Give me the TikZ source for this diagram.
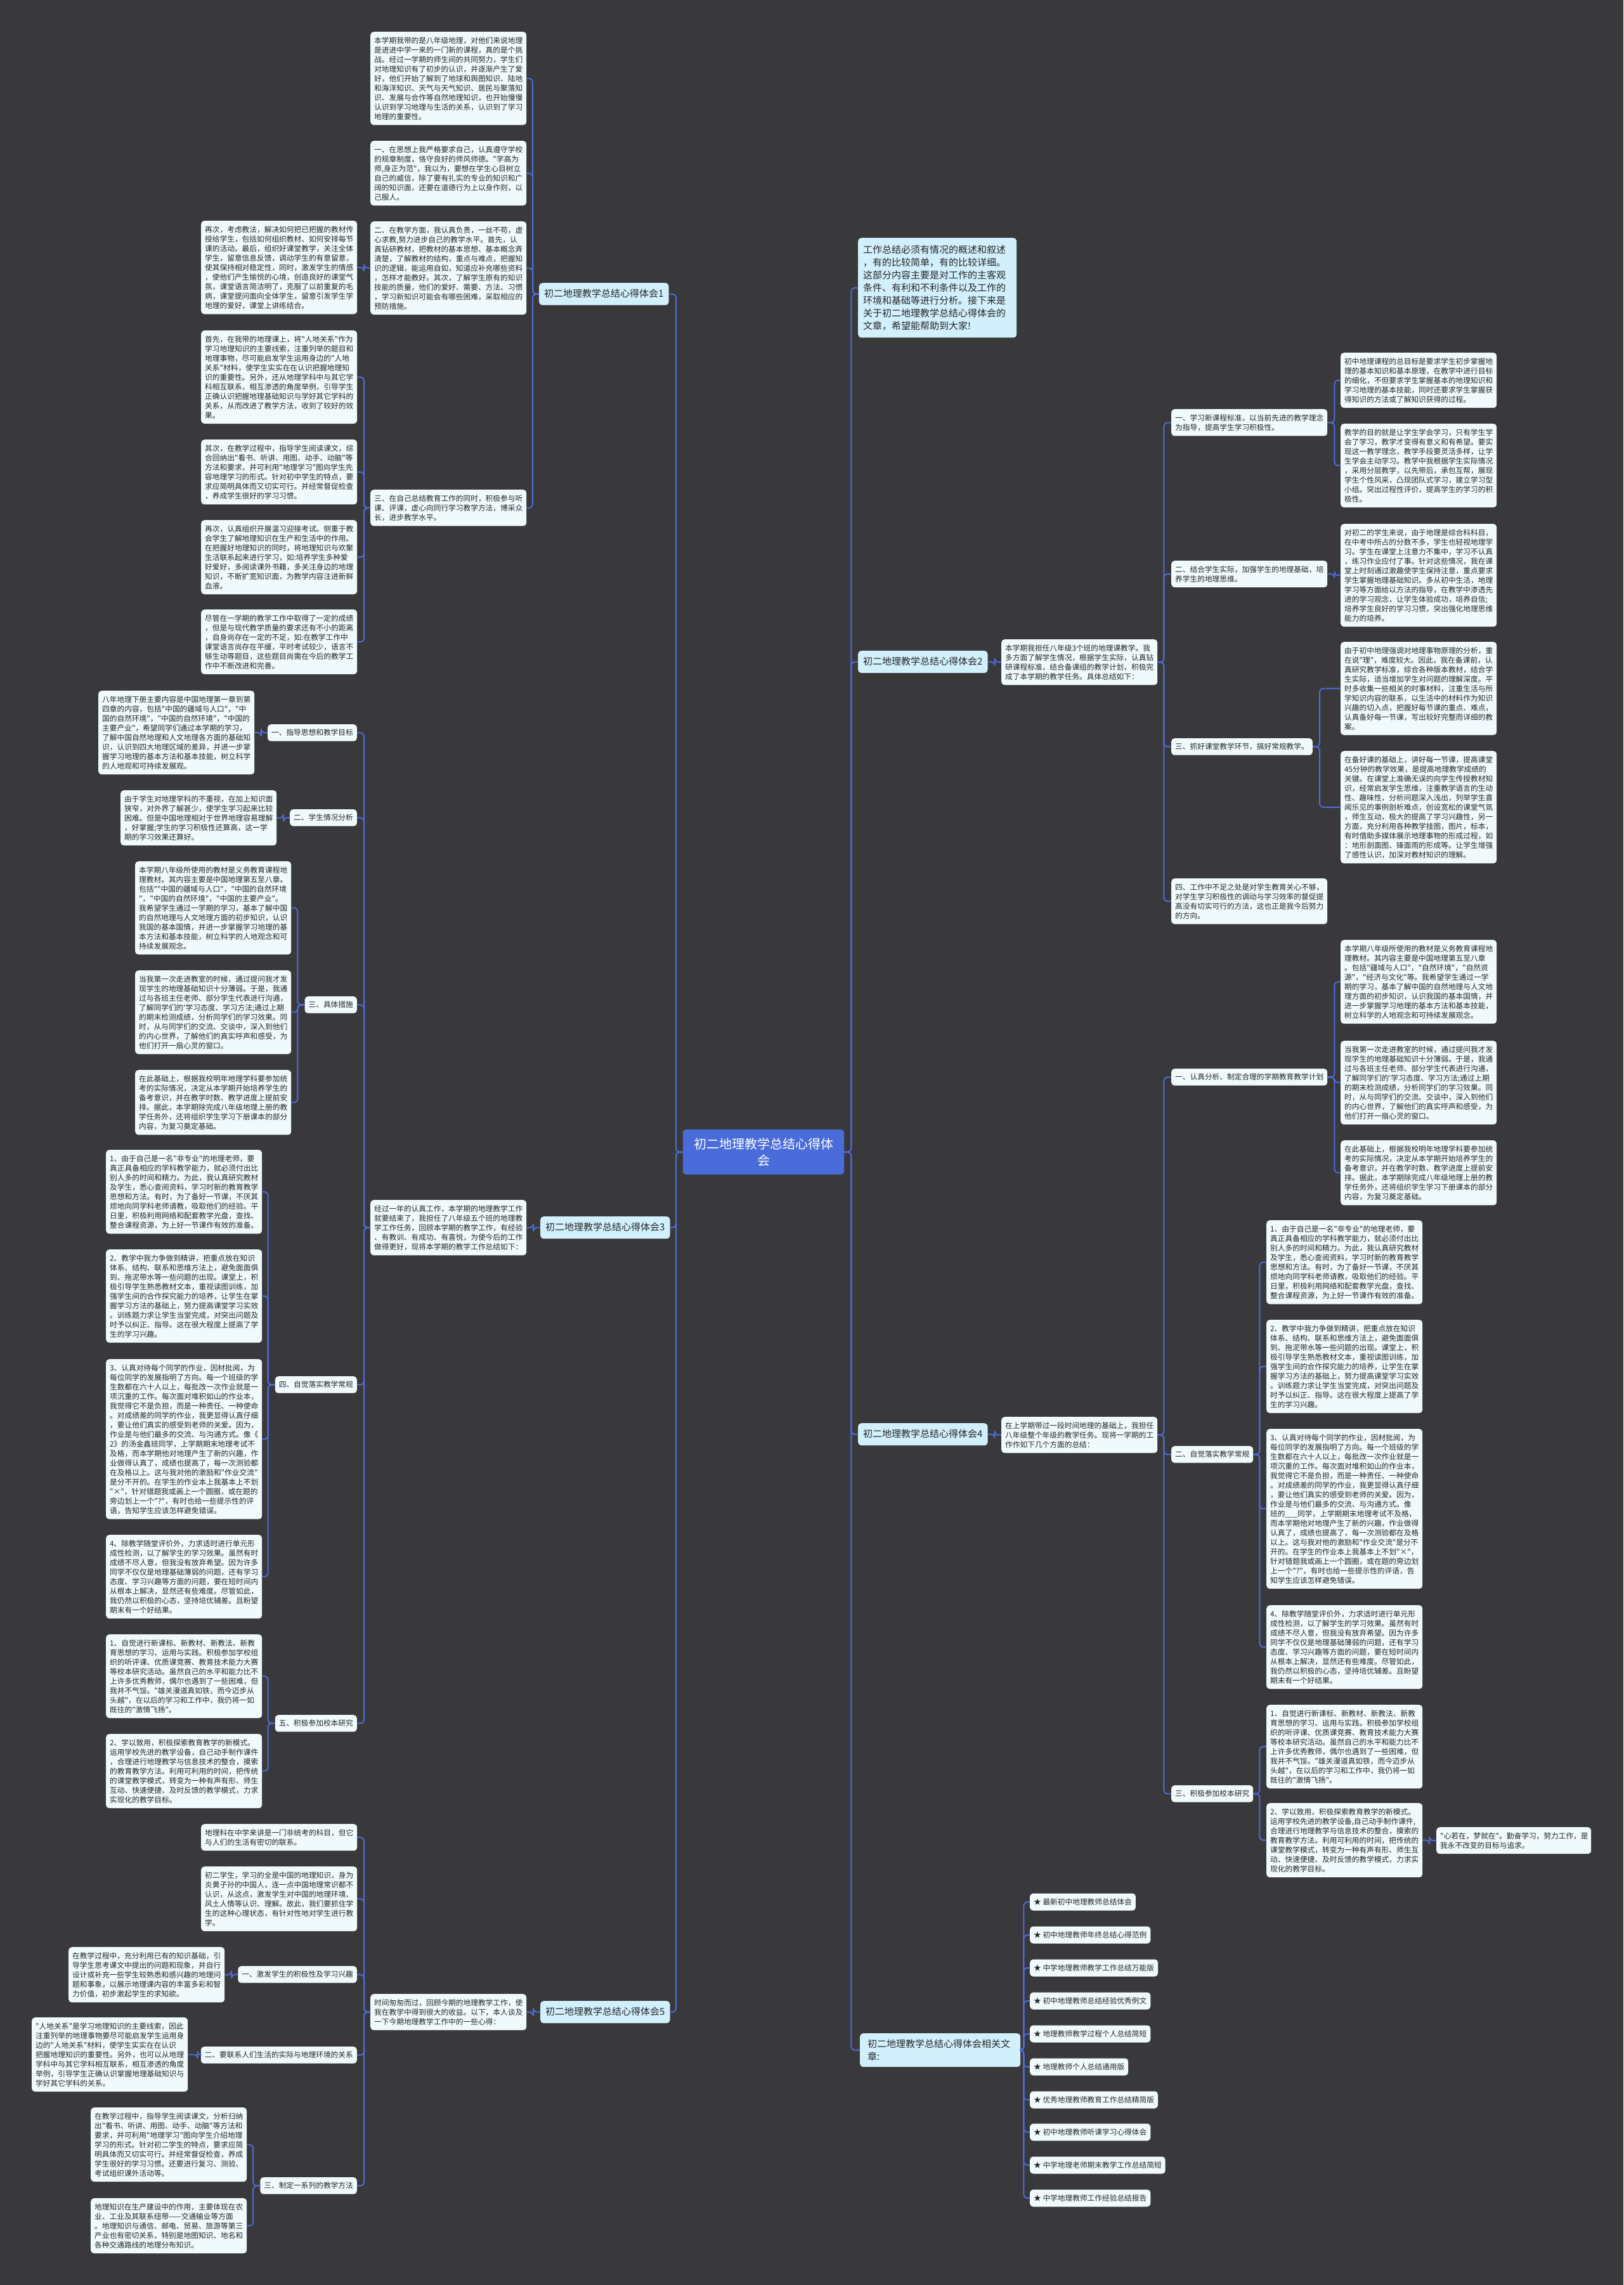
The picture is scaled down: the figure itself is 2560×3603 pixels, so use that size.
\documentclass[tikz,border=0pt]{standalone}
\usepackage{fontspec}
\newfontfamily\cjk{Noto Sans CJK SC}
\definecolor{bgc}{RGB}{57,56,58}
\definecolor{leafc}{RGB}{240,250,253}
\definecolor{labc}{RGB}{210,240,252}
\definecolor{ctrc}{RGB}{74,108,218}
\definecolor{lnc}{RGB}{78,108,218}
\definecolor{txt}{RGB}{38,38,38}
\newcommand{\fsA}{\cjk\fontsize{11.7pt}{15pt}\selectfont}
\newcommand{\fsB}{\cjk\fontsize{15pt}{20pt}\selectfont}
\newcommand{\fsC}{\cjk\fontsize{20pt}{26pt}\selectfont}
\begin{document}
\begin{tikzpicture}[x=1pt,y=-1pt,
 conn/.style={draw=lnc, line width=2pt, rounded corners=6pt},
 leaf/.style={rectangle, rounded corners=5pt, fill=leafc, text=txt, text width=234pt, inner xsep=6pt, inner ysep=8pt, align=left, font=\fsA, anchor=north west},
 sublab/.style={rectangle, rounded corners=5pt, fill=leafc, text=txt, inner xsep=6pt, inner ysep=7pt, text height=10pt, text depth=2.5pt, font=\fsA},
 blab/.style={rectangle, rounded corners=5pt, fill=labc, text=txt, inner xsep=8pt, inner ysep=10pt, text height=12pt, text depth=3pt, font=\fsB, anchor=north west},
 rellab/.style={rectangle, rounded corners=5pt, fill=leafc, text=txt, inner xsep=6pt, inner ysep=7.5pt, text height=10pt, text depth=2pt, font=\fsA, anchor=west}
]
\fill[bgc] (0,0) rectangle (2560,3603);
\useasboundingbox (0,0) rectangle (2560,3603);

% centre
\node[rectangle, rounded corners=4pt, fill=ctrc, text=white, text width=234pt, inner xsep=10pt, inner ysep=13pt, align=center, font=\fsC, anchor=north west] (C) at (1077,1781) {初二地理教学总结心得体\\会};

% ===== branch 1 =====
\node[blab] (b1) at (850,446) {初二地理教学总结心得体会1};
\node[leaf] (b1a) at (584,50) {本学期我带的是八年级地理，对他们来说地理\\是进进中学一来的一门新的课程，真的是个挑\\战。经过一学期的师生间的共同努力，学生们\\对地理知识有了初步的认识，并逐渐产生了爱\\好，他们开始了解到了地球和舆图知识、陆地\\和海洋知识、天气与天气知识、居民与聚落知\\识、发展与合作等自然地理知识，也开始慢慢\\认识到学习地理与生活的关系，认识到了学习\\地理的重要性。};
\node[leaf] (b1b) at (584,222) {一、在思想上我严格要求自己，认真遵守学校\\的规章制度，恪守良好的师风师德。"学高为\\师,身正为范"，我以为，要想在学生心目树立\\自己的威信，除了要有扎实的专业的知识和广\\阔的知识面，还要在道德行为上以身作则，以\\己服人。};
\node[leaf] (b1c) at (584,349) {二、在教学方面，我认真负责，一丝不苟，虚\\心求教,努力进步自己的教学水平。首先，认\\真钻研教材，把教材的基本思想、基本概念弄\\清楚，了解教材的结构，重点与难点，把握知\\识的逻辑，能运用自如，知道应补充哪些资料\\，怎样才能教好。其次，了解学生原有的知识\\技能的质量，他们的爱好、需要、方法、习惯\\，学习新知识可能会有哪些困难，采取相应的\\预防措施。};
\node[leaf] (b1d) at (584,772) {三、在自己总结教育工作的同时，积极参与听\\课、评课，虚心向同行学习教学方法，博采众\\长，进步教学水平。};
\node[leaf] (b1c1) at (317,348) {再次，考虑教法，解决如何把已把握的教材传\\授给学生，包括如何组织教材、如何安排每节\\课的活动。最后，组织好课堂教学，关注全体\\学生，留意信息反馈，调动学生的有意留意，\\使其保持相对稳定性，同时，激发学生的情感\\，使他们产生愉悦的心境，创造良好的课堂气\\氛，课堂语言简洁明了，克服了以前重复的毛\\病，课堂提问面向全体学生，留意引发学生学\\地理的爱好，课堂上讲练结合。};
\node[leaf] (b1d1) at (317,521) {首先，在我带的地理课上，将"人地关系"作为\\学习地理知识的主要线索，注重列举的题目和\\地理事物，尽可能启发学生运用身边的"人地\\关系"材料，使学生实实在在认识把握地理知\\识的重要性。另外，还从地理学科中与其它学\\科相互联系，相互渗透的角度举例，引导学生\\正确认识把握地理基础知识与学好其它学科的\\关系，从而改进了教学方法，收到了较好的效\\果。};
\node[leaf] (b1d2) at (317,693) {其次，在教学过程中，指导学生阅读课文，综\\合回纳出"看书、听讲、用图、动手、动脑"等\\方法和要求，并可利用"地理学习"图向学生先\\容地理学习的形式。针对初中学生的特点，要\\求应简明具体而又切实可行。并经常督促检查\\，养成学生很好的学习习惯。};
\node[leaf] (b1d3) at (317,820) {再次，认真组织开展温习迎接考试。侧重于教\\会学生了解地理知识在生产和生活中的作用。\\在把握好地理知识的同时，将地理知识与欢聚\\生活联系起来进行学习，如:培养学生多种爱\\好爱好，多阅读课外书籍，多关注身边的地理\\知识，不断扩宽知识面，为教学内容注进新鲜\\血液。};
\node[leaf] (b1d4) at (317,961) {尽管在一学期的教学工作中取得了一定的成绩\\，但是与现代教学质量的要求还有不小的距离\\，自身尚存在一定的不足，如:在教学工作中\\课堂语言尚存在平缓，平时考试较少，语言不\\够生动等题目，这些题目尚需在今后的教学工\\作中不断改进和完善。};

% ===== branch 3 =====
\node[blab] (b3) at (852,1918) {初二地理教学总结心得体会3};
\node[leaf] (b3t) at (584,1892) {经过一年的认真工作，本学期的地理教学工作\\就要结束了，我担任了八年级五个班的地理教\\学工作任务，回顾本学期的教学工作，有经验\\、有教训、有成功、有喜悦，为使今后的工作\\做得更好，现将本学期的教学工作总结如下：};
\node[sublab, anchor=north east] (b3s1) at (563,1142) {一、指导思想和教学目标};
\node[sublab, anchor=north east] (b3s2) at (563,1276) {二、学生情况分析};
\node[sublab, anchor=north east] (b3s3) at (563,1571) {三、具体措施};
\node[sublab, anchor=north east] (b3s4) at (563,2170) {四、自觉落实教学常规};
\node[sublab, anchor=north east] (b3s5) at (563,2704) {五、积极参加校本研究};
\node[leaf] (b3s1l) at (155,1089) {八年地理下册主要内容是中国地理第一章到第\\四章的内容，包括"中国的疆域与人口"，"中\\国的自然环境"，"中国的自然环境"，"中国的\\主要产业"，希望同学们通过本学期的学习，\\了解中国自然地理和人文地理各方面的基础知\\识，认识到四大地理区域的差异，并进一步掌\\握学习地理的基本方法和基本技能，树立科学\\的人地观和可持续发展观。};
\node[leaf] (b3s2l) at (190,1246) {由于学生对地理学科的不重视，在加上知识面\\狭窄，对外界了解甚少，使学生学习起来比较\\困难。但是中国地理相对于世界地理容易理解\\，好掌握;学生的学习积极性还算高，这一学\\期的学习效果还算好。};
\node[leaf] (b3s3l1) at (213,1358) {本学期八年级所使用的教材是义务教育课程地\\理教材。其内容主要是中国地理第五至八章。\\包括""中国的疆域与人口"，"中国的自然环境\\"，"中国的自然环境"，"中国的主要产业"。\\我希望学生通过一学期的学习，基本了解中国\\的自然地理与人文地理方面的初步知识，认识\\我国的基本国情，并进一步掌握学习地理的基\\本方法和基本技能，树立科学的人地观念和可\\持续发展观念。};
\node[leaf] (b3s3l2) at (213,1530) {当我第一次走进教室的时候，通过提问我才发\\现学生的地理基础知识十分薄弱。于是，我通\\过与各班主任老师、部分学生代表进行沟通，\\了解同学们的'学习态度、学习方法;通过上期\\的期末检测成绩，分析同学们的学习效果。同\\时，从与同学们的交流、交谈中，深入到他们\\的内心世界，了解他们的真实呼声和感受，为\\他们打开一扇心灵的窗口。};
\node[leaf] (b3s3l3) at (213,1687) {在此基础上，根据我校明年地理学科要参加统\\考的实际情况，决定从本学期开始培养学生的\\备考意识，并在教学时数、教学进度上提前安\\排。据此，本学期除完成八年级地理上册的教\\学任务外，还将组织学生学习下册课本的部分\\内容，为复习奠定基础。};
\node[leaf] (b3s4l1) at (167,1813) {1、由于自己是一名"非专业"的地理老师，要\\真正具备相应的学科教学能力，就必须付出比\\别人多的时间和精力。为此，我认真研究教材\\及学生，悉心查阅资料，学习时新的教育教学\\思想和方法。有时，为了备好一节课，不厌其\\烦地向同学科老师请教，吸取他们的经验。平\\日里，积极利用网络和配套教学光盘，查找、\\整合课程资源，为上好一节课作有效的准备。};
\node[leaf] (b3s4l2) at (167,1970) {2、教学中我力争做到精讲，把重点放在知识\\体系、结构、联系和思维方法上，避免面面俱\\到、拖泥带水等一些问题的出现。课堂上，积\\极引导学生熟悉教材文本，重视读图训练，加\\强学生间的合作探究能力的培养，让学生在掌\\握学习方法的基础上，努力提高课堂学习实效\\。训练题力求让学生当堂完成，对突出问题及\\时予以纠正、指导。这在很大程度上提高了学\\生的学习兴趣。};
\node[leaf] (b3s4l3) at (167,2143) {3、认真对待每个同学的作业，因材批阅，为\\每位同学的发展指明了方向。每一个班级的学\\生数都在六十人以上，每批改一次作业就是一\\项沉重的工作。每次面对堆积如山的作业本，\\我觉得它不是负担，而是一种责任、一种使命\\。对成绩差的同学的作业，我更显得认真仔细\\，要让他们真实的感受到老师的关爱。因为，\\作业是与他们最多的交流、与沟通方式。像《\\2》的汤金鑫班同学，上学期期末地理考试不\\及格，而本学期他对地理产生了新的兴趣，作\\业做得认真了，成绩也提高了，每一次测验都\\在及格以上。这与我对他的激励和"作业交流"\\是分不开的。在学生的作业本上我基本上不划\\"×"，针对错题我或画上一个圆圈，或在题的\\旁边划上一个"?"，有时也给一些提示性的评\\语，告知学生应该怎样避免错误。};
\node[leaf] (b3s4l4) at (167,2420) {4、除教学随堂评价外，力求适时进行单元形\\成性检测，以了解学生的学习效果。虽然有时\\成绩不尽人意，但我没有放弃希望。因为许多\\同学不仅仅是地理基础薄弱的问题，还有学习\\态度、学习兴趣等方面的问题，要在短时间内\\从根本上解决，显然还有些难度。尽管如此，\\我仍然以积极的心态，坚持培优辅差。且盼望\\期末有一个好结果。};
\node[leaf] (b3s5l1) at (167,2577) {1、自觉进行新课标、新教材、新教法、新教\\育思想的学习、运用与实践。积极参加学校组\\织的听评课、优质课竞赛、教育技术能力大赛\\等校本研究活动。虽然自己的水平和能力比不\\上许多优秀教师，偶尔也遇到了一些困难，但\\我并不气馁。"雄关漫道真如铁，而今迈步从\\头越"，在以后的学习和工作中，我仍将一如\\既往的"激情飞扬"。};
\node[leaf] (b3s5l2) at (167,2734) {2、学以致用，积极探索教育教学的新模式。\\运用学校先进的教学设备，自己动手制作课件\\，合理进行地理教学与信息技术的整合，摸索\\的教育教学方法。利用可利用的时间，把传统\\的课堂教学模式，转变为一种有声有形、师生\\互动、快速便捷、及时反馈的教学模式，力求\\实现化的教学目标。};

% ===== branch 5 =====
\node[blab] (b5) at (852,3155) {初二地理教学总结心得体会5};
\node[leaf] (b5t) at (584,3144) {时间匆匆而过，回顾今期的地理教学工作，使\\我在教学中得到很大的收益。以下，本人谈及\\一下今期地理教学工作中的一些心得：};
\node[leaf] (b5a) at (317,2876) {地理科在中学来讲是一门非统考的科目，但它\\与人们的生活有密切的联系。};
\node[leaf] (b5b) at (317,2943) {初二学生，学习的全是中国的地理知识，身为\\炎黄子孙的中国人，连一点中国地理常识都不\\认识，从这点，激发学生对中国的地理环境、\\风土人情等认识、理解。故此，我们要抓住学\\生的这种心理状态，有针对性地对学生进行教\\学。};
\node[sublab, anchor=north east] (b5s1) at (563,3100) {一、激发学生的积极性及学习兴趣};
\node[sublab, anchor=north east] (b5s2) at (563,3227) {二、要联系人们生活的实际与地理环境的关系};
\node[sublab, anchor=north east] (b5s3) at (563,3433) {三、制定一系列的教学方法};
\node[leaf] (b5s1l) at (108,3070) {在教学过程中，充分利用已有的知识基础，引\\导学生思考课文中提出的问题和现象，并自行\\设计或补充一些学生较熟悉和感兴趣的地理问\\题和事象，以展示地理课内容的丰富多彩和智\\力价值，初步激起学生的求知欲。};
\node[leaf] (b5s2l) at (50,3181) {"人地关系"是学习地理知识的主要线索，因此\\注重列举的地理事物要尽可能启发学生运用身\\边的"人地关系"材料，使学生实实在在认识\\把握地理知识的重要性。另外，也可以从地理\\学科中与其它学科相互联系，相互渗透的角度\\举例，引导学生正确认识掌握地理基础知识与\\学好其它学科的关系。};
\node[leaf] (b5s3l1) at (143,3323) {在教学过程中，指导学生阅读课文，分析归纳\\出"看书、听讲、用图、动手、动脑"等方法和\\要求，并可利用"地理学习"图向学生介绍地理\\学习的形式。针对初二学生的特点，要求应简\\明具体而又切实可行。并经常督促检查，养成\\学生很好的学习习惯。还要进行复习、测验、\\考试组织课外活动等。};
\node[leaf] (b5s3l2) at (143,3466) {地理知识在生产建设中的作用，主要体现在农\\业、工业及其联系纽带——交通输业等方面\\。地理知识与通信、邮电、贸易、旅游等第三\\产业也有密切关系，特别是地图知识、地名和\\各种交通路线的地理分布知识。};

% ===== right: intro =====
\node[rectangle, rounded corners=5pt, fill=labc, text=txt, text width=234pt, inner xsep=8pt, inner ysep=11.5pt, align=left, font=\fsB, anchor=north west] (intro) at (1353,375) {工作总结必须有情况的概述和叙述\\，有的比较简单，有的比较详细。\\这部分内容主要是对工作的主客观\\条件、有利和不利条件以及工作的\\环境和基础等进行分析。接下来是\\关于初二地理教学总结心得体会的\\文章，希望能帮助到大家!};

% ===== branch 2 =====
\node[blab] (b2) at (1353,1026) {初二地理教学总结心得体会2};
\node[leaf] (b2t) at (1579,1008) {本学期我担任八年级3个班的地理课教学。我\\多方面了解学生情况，根据学生实际，认真钻\\研课程标准，结合备课组的教学计划，积极完\\成了本学期的教学任务。具体总结如下：};
\node[leaf] (b2s1) at (1847,645) {一、学习新课程标准，以当前先进的教学理念\\为指导，提高学生学习积极性。};
\node[leaf] (b2s2) at (1847,884) {二、结合学生实际，加强学生的地理基础，培\\养学生的地理思维。};
\node[sublab, anchor=north west] (b2s3) at (1847,1164) {三、抓好课堂教学环节，搞好常规教学。};
\node[leaf] (b2s4) at (1847,1385) {四、工作中不足之处是对学生教育关心不够，\\对学生学习积极性的调动与学习效率的督促提\\高没有切实可行的方法，这也正是我今后努力\\的方向。};
\node[leaf] (b2l1) at (2114,556) {初中地理课程的总目标是要求学生初步掌握地\\理的基本知识和基本原理，在教学中进行目标\\的细化，不但要求学生掌握基本的地理知识和\\学习地理的基本技能，同时还要求学生掌握获\\得知识的方法或了解知识获得的过程。};
\node[leaf] (b2l2) at (2114,668) {教学的目的就是让学生学会学习，只有学生学\\会了学习，教学才变得有意义和有希望。要实\\现这一教学理念，教学手段要灵活多样，让学\\生学会主动学习。教学中我根据学生实际情况\\，采用分层教学，以先带后，承包互帮，展现\\学生个性风采，凸现团队式学习，建立学习型\\小组。突出过程性评价，提高学生的学习的积\\极性。};
\node[leaf] (b2l3) at (2114,826) {对初二的学生来说，由于地理是综合科科目，\\在中考中所占的分数不多，学生也轻视地理学\\习。学生在课堂上注意力不集中，学习不认真\\，练习作业应付了事。针对这些情况，我在课\\堂上时刻通过激趣使学生保持注意，重点要求\\学生掌握地理基础知识。多从初中生活，地理\\学习等方面给以方法的指导，在教学中渗透先\\进的学习观念，让学生体验成功，培养自信;\\培养学生良好的学习习惯，突出强化地理思维\\能力的培养。};
\node[leaf] (b2l4) at (2114,1012) {由于初中地理强调对地理事物原理的分析，重\\在说"理"，难度较大。因此，我在备课前，认\\真研究教学标准，综合各种版本教材，结合学\\生实际，适当增加学生对问题的理解深度。平\\时多收集一些相关的时事材料，注重生活与所\\学知识内容的联系，以生活中的材料作为知识\\兴趣的切入点，把握好每节课的重点、难点，\\认真备好每一节课，写出较好完整而详细的教\\案。};
\node[leaf] (b2l5) at (2114,1184) {在备好课的基础上，讲好每一节课，提高课堂\\45分钟的教学效果，是提高地理教学成绩的\\关键。在课堂上准确无误的向学生传授教材知\\识，经常启发学生思维，注重教学语言的生动\\性、趣味性，分析问题深入浅出，列举学生喜\\闻乐见的事例剖析难点，创设宽松的课堂气氛\\，师生互动，极大的提高了学习兴趣性，另一\\方面，充分利用各种教学挂图，图片，标本，\\有时借助多媒体展示地理事物的形成过程，如\\：地形剖面图、锋面雨的形成等。让学生增强\\了感性认识，加深对教材知识的理解。};

% ===== branch 4 =====
\node[blab] (b4) at (1353,2244) {初二地理教学总结心得体会4};
\node[leaf] (b4t) at (1579,2234) {在上学期带过一段时间地理的基础上，我担任\\八年级整个年级的教学任务。现将一学期的工\\作作如下几个方面的总结：};
\node[sublab, anchor=north west] (b4s1) at (1847,1685) {一、认真分析、制定合理的学期教育教学计划};
\node[sublab, anchor=north west] (b4s2) at (1847,2280) {二、自觉落实教学常规};
\node[sublab, anchor=north west] (b4s3) at (1847,2815) {三、积极参加校本研究};
\node[leaf] (b4s1l1) at (2114,1482) {本学期八年级所使用的教材是义务教育课程地\\理教材。其内容主要是中国地理第五至八章\\。包括"疆域与人口"，"自然环境"，"自然资\\源"，"经济与文化"等。我希望学生通过一学\\期的学习，基本了解中国的自然地理与人文地\\理方面的初步知识，认识我国的基本国情，并\\进一步掌握学习地理的基本方法和基本技能，\\树立科学的人地观念和可持续发展观念。};
\node[leaf] (b4s1l2) at (2114,1641) {当我第一次走进教室的时候，通过提问我才发\\现学生的地理基础知识十分薄弱。于是，我通\\过与各班主任老师、部分学生代表进行沟通，\\了解同学们的'学习态度、学习方法;通过上期\\的期末检测成绩，分析同学们的学习效果。同\\时，从与同学们的交流、交谈中，深入到他们\\的内心世界，了解他们的真实呼声和感受，为\\他们打开一扇心灵的窗口。};
\node[leaf] (b4s1l3) at (2114,1798) {在此基础上，根据我校明年地理学科要参加统\\考的实际情况，决定从本学期开始培养学生的\\备考意识，并在教学时数、教学进度上提前安\\排。据此，本学期除完成八年级地理上册的教\\学任务外，还将组织学生学习下册课本的部分\\内容，为复习奠定基础。};
\node[leaf] (b4s2l1) at (1997,1924) {1、由于自己是一名"非专业"的地理老师，要\\真正具备相应的学科教学能力，就必须付出比\\别人多的时间和精力。为此，我认真研究教材\\及学生，悉心查阅资料，学习时新的教育教学\\思想和方法。有时，为了备好一节课，不厌其\\烦地向同学科老师请教，吸取他们的经验。平\\日里，积极利用网络和配套教学光盘，查找、\\整合课程资源，为上好一节课作有效的准备。};
\node[leaf] (b4s2l2) at (1997,2081) {2、教学中我力争做到精讲，把重点放在知识\\体系、结构、联系和思维方法上，避免面面俱\\到、拖泥带水等一些问题的出现。课堂上，积\\极引导学生熟悉教材文本，重视读图训练，加\\强学生间的合作探究能力的培养，让学生在掌\\握学习方法的基础上，努力提高课堂学习实效\\。训练题力求让学生当堂完成，对突出问题及\\时予以纠正、指导。这在很大程度上提高了学\\生的学习兴趣。};
\node[leaf] (b4s2l3) at (1997,2253) {3、认真对待每个同学的作业，因材批阅，为\\每位同学的发展指明了方向。每一个班级的学\\生数都在六十人以上，每批改一次作业就是一\\项沉重的工作。每次面对堆积如山的作业本，\\我觉得它不是负担，而是一种责任、一种使命\\。对成绩差的同学的作业，我更显得认真仔细\\，要让他们真实的感受到老师的关爱。因为，\\作业是与他们最多的交流、与沟通方式。像\\班的\_\_\_同学，上学期期末地理考试不及格，\\而本学期他对地理产生了新的兴趣，作业做得\\认真了，成绩也提高了，每一次测验都在及格\\以上。这与我对他的激励和"作业交流"是分不\\开的。在学生的作业本上我基本上不划"×"，\\针对错题我或画上一个圆圈，或在题的旁边划\\上一个"?"，有时也给一些提示性的评语，告\\知学生应该怎样避免错误。};
\node[leaf] (b4s2l4) at (1997,2531) {4、除教学随堂评价外，力求适时进行单元形\\成性检测，以了解学生的学习效果。虽然有时\\成绩不尽人意，但我没有放弃希望。因为许多\\同学不仅仅是地理基础薄弱的问题，还有学习\\态度、学习兴趣等方面的问题，要在短时间内\\从根本上解决，显然还有些难度。尽管如此，\\我仍然以积极的心态，坚持培优辅差。且盼望\\期末有一个好结果。};
\node[leaf] (b4s3l1) at (1997,2688) {1、自觉进行新课标、新教材、新教法、新教\\育思想的学习、运用与实践。积极参加学校组\\织的听评课、优质课竞赛、教育技术能力大赛\\等校本研究活动。虽然自己的水平和能力比不\\上许多优秀教师，偶尔也遇到了一些困难，但\\我并不气馁。"雄关漫道真如铁，而今迈步从\\头越"，在以后的学习和工作中，我仍将一如\\既往的"激情飞扬"。};
\node[leaf] (b4s3l2) at (1997,2843) {2、学以致用，积极探索教育教学的新模式。\\运用学校先进的教学设备,自己动手制作课件,\\合理进行地理教学与信息技术的整合，摸索的\\教育教学方法。利用可利用的时间，把传统的\\课堂教学模式，转变为一种有声有形、师生互\\动、快速便捷、及时反馈的教学模式，力求实\\现化的教学目标。};
\node[leaf, text width=232pt] (far) at (2265,2881) {"心若在，梦就在"。勤奋学习，努力工作，是\\我永不改变的目标与追求。};

% ===== related =====
\node[rectangle, rounded corners=5pt, fill=labc, text=txt, text width=229pt, inner xsep=12pt, inner ysep=9.5pt, align=left, font=\fsB, anchor=north west] (rel) at (1356,3206) {初二地理教学总结心得体会相关文\\章:};
\node[rellab] (r1) at (1624,2999) {★ 最新初中地理教师总结体会};
\node[rellab] (r2) at (1624,3051) {★ 初中地理教师年终总结心得范例};
\node[rellab] (r3) at (1624,3103) {★ 中学地理教师教学工作总结万能版};
\node[rellab] (r4) at (1624,3155) {★ 初中地理教师总结经验优秀例文};
\node[rellab] (r5) at (1624,3207) {★ 地理教师教学过程个人总结简短};
\node[rellab] (r6) at (1624,3259) {★ 地理教师个人总结通用版};
\node[rellab] (r7) at (1624,3311) {★ 优秀地理教师教育工作总结精简版};
\node[rellab] (r8) at (1624,3362) {★ 初中地理教师听课学习心得体会};
\node[rellab] (r9) at (1624,3414) {★ 中学地理老师期末教学工作总结简短};
\node[rellab] (r10) at (1624,3466) {★ 中学地理教师工作经验总结报告};

% ===== connectors =====
\foreach \q in {b1,b3,b5} \draw[conn] (C.west) -- ++(-11pt,0) |- (\q.east);
\foreach \q in {intro,b2,b4,rel} \draw[conn] (C.east) -- ++(11pt,0) |- (\q.west);
% branch 1
\foreach \q in {b1a,b1b,b1c,b1d} \draw[conn] (b1.west) -- ++(-10pt,0) |- (\q.east);
\draw[conn] (b1c.west) -- ++(-10pt,0) |- (b1c1.east);
\foreach \q in {b1d1,b1d2,b1d3,b1d4} \draw[conn] (b1d.west) -- ++(-10pt,0) |- (\q.east);
% branch 3
\draw[conn] (b3.west) -- ++(-11pt,0) |- (b3t.east);
\foreach \q in {b3s1,b3s2,b3s3,b3s4,b3s5} \draw[conn] (b3t.west) -- ++(-10pt,0) |- (\q.east);
\draw[conn] (b3s1.west) -- ++(-10pt,0) |- (b3s1l.east);
\draw[conn] (b3s2.west) -- ++(-10pt,0) |- (b3s2l.east);
\foreach \q in {b3s3l1,b3s3l2,b3s3l3} \draw[conn] (b3s3.west) -- ++(-11pt,0) |- (\q.east);
\foreach \q in {b3s4l1,b3s4l2,b3s4l3,b3s4l4} \draw[conn] (b3s4.west) -- ++(-11pt,0) |- (\q.east);
\foreach \q in {b3s5l1,b3s5l2} \draw[conn] (b3s5.west) -- ++(-11pt,0) |- (\q.east);
% branch 5
\draw[conn] (b5.west) -- ++(-11pt,0) |- (b5t.east);
\foreach \q in {b5a,b5b,b5s1,b5s2,b5s3} \draw[conn] (b5t.west) -- ++(-10pt,0) |- (\q.east);
\draw[conn] (b5s1.west) -- ++(-10pt,0) |- (b5s1l.east);
\draw[conn] (b5s2.west) -- ++(-5pt,0) |- (b5s2l.east);
\foreach \q in {b5s3l1,b5s3l2} \draw[conn] (b5s3.west) -- ++(-11pt,0) |- (\q.east);
% branch 2
\draw[conn] (b2.east) -- ++(11pt,0) |- (b2t.west);
\foreach \q in {b2s1,b2s2,b2s3,b2s4} \draw[conn] (b2t.east) -- ++(10pt,0) |- (\q.west);
\foreach \q in {b2l1,b2l2} \draw[conn] (b2s1.east) -- ++(11pt,0) |- (\q.west);
\draw[conn] (b2s2.east) -- ++(11pt,0) |- (b2l3.west);
\foreach \q in {b2l4,b2l5} \draw[conn] (b2s3.east) -- ++(11pt,0) |- (\q.west);
% branch 4
\draw[conn] (b4.east) -- ++(11pt,0) |- (b4t.west);
\foreach \q in {b4s1,b4s2,b4s3} \draw[conn] (b4t.east) -- ++(10pt,0) |- (\q.west);
\foreach \q in {b4s1l1,b4s1l2,b4s1l3} \draw[conn] (b4s1.east) -- ++(11pt,0) |- (\q.west);
\foreach \q in {b4s2l1,b4s2l2,b4s2l3,b4s2l4} \draw[conn] (b4s2.east) -- ++(10pt,0) |- (\q.west);
\foreach \q in {b4s3l1,b4s3l2} \draw[conn] (b4s3.east) -- ++(10pt,0) |- (\q.west);
\draw[conn] (b4s3l2.east) -- ++(11pt,0) |- (far.west);
% related
\foreach \q in {r1,r2,r3,r4,r5,r6,r7,r8,r9,r10} \draw[conn] (rel.east) -- ++(5pt,0) |- (\q.west);
\end{tikzpicture}
\end{document}
